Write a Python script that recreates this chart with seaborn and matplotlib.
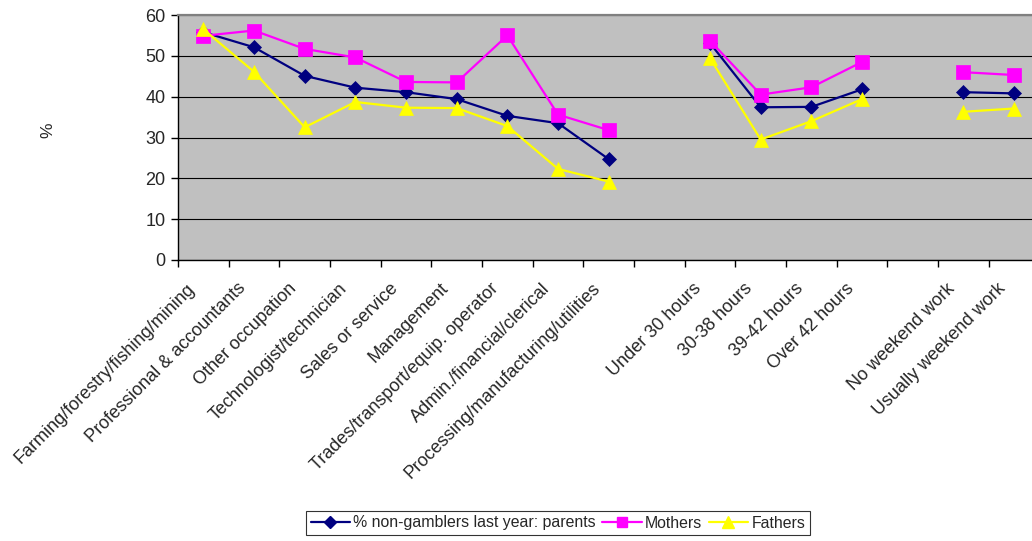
import numpy as np
import pandas as pd
import matplotlib.pyplot as plt
import matplotlib.transforms as mtransforms
import seaborn as sns
from matplotlib.lines import Line2D

# categories ("" = empty slot between groups)
categories = [
    "Farming/forestry/fishing/mining",
    "Professional & accountants",
    "Other occupation",
    "Technologist/technician",
    "Sales or service",
    "Management",
    "Trades/transport/equip. operator",
    "Admin./financial/clerical",
    "Processing/manufacturing/utilities",
    "",
    "Under 30 hours",
    "30-38 hours",
    "39-42 hours",
    "Over 42 hours",
    "",
    "No weekend work",
    "Usually weekend work",
]

nan = np.nan
parents = [55.8, 52.1, 45.1, 42.2, 41.1, 39.4, 35.3, 33.5, 24.7, nan,
           53.1, 37.4, 37.5, 41.8, nan, 41.1, 40.8]
mothers = [54.9, 56.2, 51.7, 49.6, 43.6, 43.5, 55.0, 35.6, 31.8, nan,
           53.7, 40.5, 42.3, 48.5, nan, 46.0, 45.3]
fathers = [56.5, 46.1, 32.5, 38.7, 37.3, 37.2, 32.8, 22.3, 19.2, nan,
           49.4, 29.5, 34.0, 39.4, nan, 36.3, 37.1]

series_names = ["% non-gamblers last year: parents", "Mothers", "Fathers"]
series_vals = [parents, mothers, fathers]
colors = ["#000080", "#FF00FF", "#FFFF00"]
markers = ["D", "s", "^"]
msizes = [7.5, 9.5, 10.5]

sns.set_theme(style="white")
plt.rcParams["font.family"] = ["Liberation Sans", "DejaVu Sans"]

fig = plt.figure(figsize=(10.32, 5.41), dpi=100)
ax = fig.add_axes([178 / 1032, 1 - 260 / 541, 861.4 / 1032, 245 / 541])
ax.set_facecolor("#C0C0C0")

pos = np.arange(len(categories))
df = pd.DataFrame({"pos": pos})
for name, vals in zip(series_names, series_vals):
    df[name] = vals

# split into contiguous groups so the lines break at empty slots
groups = []
cur = []
for i, c in enumerate(categories):
    if c == "":
        if cur:
            groups.append(cur)
        cur = []
    else:
        cur.append(i)
if cur:
    groups.append(cur)

for name, col, mk, ms in zip(series_names, colors, markers, msizes):
    for g in groups:
        sub = df.loc[g]
        sns.lineplot(data=sub, x="pos", y=name, ax=ax, color=col, marker=mk,
                     markersize=ms, markeredgecolor=col, markeredgewidth=0.5,
                     linewidth=1.6, legend=False, zorder=3)

ax.set_xlim(-0.5, len(categories) - 0.5)
ax.set_ylim(0, 60)
ax.set_yticks(range(0, 61, 10))
ax.yaxis.grid(True, color="black", linewidth=0.8)
ax.set_axisbelow(True)
ax.set_xlabel("")
ax.set_ylabel("")

ax.set_xticks(pos)
ax.set_xticklabels(categories, rotation=45, ha="right", rotation_mode="anchor",
                   fontsize=13)
ax.set_xticks(np.arange(-0.5, len(categories), 1.0), minor=True)
ax.tick_params(axis="x", which="major", length=0, pad=10)
ax.tick_params(axis="x", which="minor", length=5, width=1, color="black",
               direction="out", bottom=True)
ax.tick_params(axis="y", length=5, width=1, color="black", direction="out",
               left=True, labelsize=13, pad=4)

# nudge the rotated labels left/down like the original (after tick_params)
offset = mtransforms.ScaledTranslation(-0.17, -0.06, fig.dpi_scale_trans)
for lbl in ax.get_xticklabels():
    lbl.set_transform(lbl.get_transform() + offset)

for s in ["left", "bottom"]:
    ax.spines[s].set_color("black")
    ax.spines[s].set_linewidth(1.0)
ax.spines["top"].set_color("#808080")
ax.spines["top"].set_linewidth(1.6)
ax.spines["right"].set_visible(False)

fig.text(48 / 1032, 1 - 130 / 541, "%", rotation=90, fontsize=12.5,
         ha="center", va="center")

handles = [Line2D([0], [0], color=c, marker=m, markersize=s * 0.8,
                  markeredgecolor=c, linewidth=1.6)
           for c, m, s in zip(colors, markers, msizes)]
leg = fig.legend(handles, series_names, loc="center", ncol=3,
                 bbox_to_anchor=(558 / 1032, 1 - 523 / 541),
                 fontsize=11.4, frameon=True, fancybox=False, shadow=False,
                 handlelength=2.5, handletextpad=0.2, columnspacing=0.4,
                 borderpad=0.3, borderaxespad=0)
leg.get_frame().set_edgecolor("black")
leg.get_frame().set_linewidth(0.8)

fig.savefig("out.png", dpi=100)
